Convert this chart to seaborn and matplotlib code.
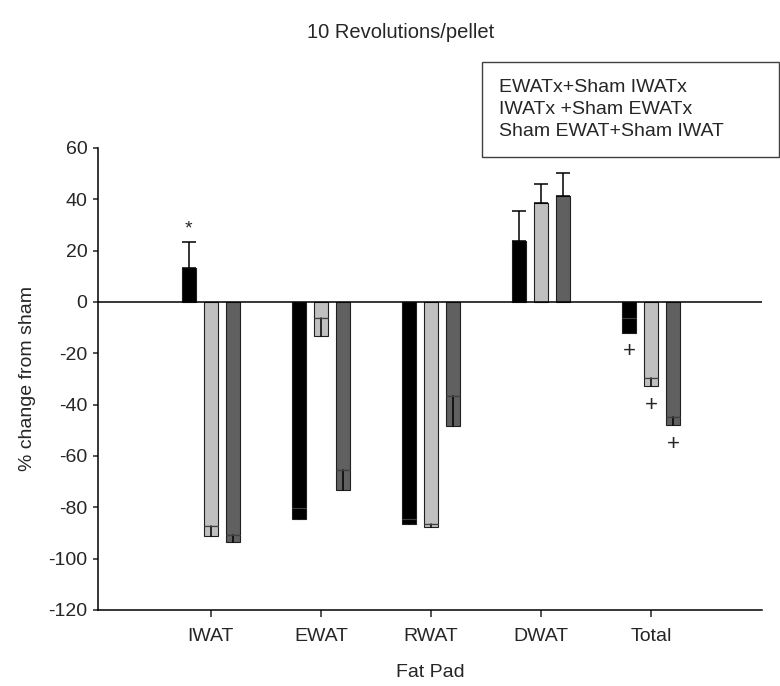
import seaborn as sns
import matplotlib.pyplot as plt
import pandas as pd

# categories and series
pads = ["IWAT", "EWAT", "RWAT", "DWAT", "Total"]
groups = ["EWATx+Sham IWATx", "IWATx +Sham EWATx", "Sham EWAT+Sham IWAT"]
colors = ["#000000", "#c0c0c0", "#606060"]

# mean % change from sham, one list per group
mean_ewatx = [13.3, -80.1, -84.7, 23.9, -6.1]
mean_iwatx = [-87.1, -6.4, -86.5, 38.6, -29.6]
mean_sham = [-90.6, -65.4, -36.5, 41.1, -44.8]

# standard error, one list per group
se_ewatx = [10.2, 4.3, 1.9, 11.4, 5.8]
se_iwatx = [4.1, 6.8, 1.0, 7.3, 3.2]
se_sham = [2.9, 7.8, 11.7, 9.3, 3.3]

# significance marks (group index, pad index, symbol)
marks = [(0, 0, "*"), (0, 4, "+"), (1, 4, "+"), (2, 4, "+")]

means = [mean_ewatx, mean_iwatx, mean_sham]
ses = [se_ewatx, se_iwatx, se_sham]

rows = []
for g, m_list, s_list in zip(groups, means, ses):
    for p, m, s in zip(pads, m_list, s_list):
        rows.append({"pad": p, "group": g, "value": m, "se": s})
df = pd.DataFrame(rows)

sns.set_style("white")
plt.rcParams["font.family"] = ["Liberation Sans", "DejaVu Sans"]
plt.rcParams["axes.unicode_minus"] = False

fig = plt.figure(figsize=(7.8, 6.86), dpi=100)
ax = fig.add_axes([0.1256, 0.1108, 0.8513, 0.6735])

sns.barplot(data=df, x="pad", y="value", hue="group", order=pads,
            hue_order=groups, palette=colors, width=0.6, gap=0.39,
            errorbar=None, edgecolor="#202020", linewidth=0.8, ax=ax,
            legend=True)

bar_sets = [list(c.patches) for c in ax.containers]

# error bars: whiskers up for positive means, filled boxes down for negative
for gi, patches in enumerate(bar_sets):
    for pi, patch in enumerate(patches):
        m = means[gi][pi]
        s = ses[gi][pi]
        xc = patch.get_x() + patch.get_width() / 2
        w = patch.get_width()
        if m >= 0:
            ax.errorbar(xc, m, yerr=[[0], [s]], fmt="none", ecolor="black",
                        elinewidth=1.1, capsize=5.0, capthick=1.1)
        else:
            ax.bar(xc, -s, bottom=m, width=w, color=colors[gi],
                   edgecolor="#202020", linewidth=0.8)
            ax.plot([xc, xc], [m, m - s], color="black", lw=1.1)
            ax.plot([xc - w / 2, xc + w / 2], [m, m], color="#404040", lw=0.8)

for gi, pi, sym in marks:
    patch = bar_sets[gi][pi]
    xc = patch.get_x() + patch.get_width() / 2
    m = means[gi][pi]
    s = ses[gi][pi]
    if m >= 0:
        ax.text(xc, m + s + 1.5, sym, ha="center", va="bottom", fontsize=14)
    else:
        ax.text(xc, m - s - 7.5, sym, ha="center", va="center", fontsize=16)

ax.axhline(0, color="black", lw=1.1)
ax.set_xlim(-1.027, 5.01)
ax.set_ylim(-120, 60)
ax.set_yticks(range(-120, 61, 20))
sns.despine(ax=ax)
for side in ["left", "bottom"]:
    ax.spines[side].set_color("black")
    ax.spines[side].set_linewidth(1.1)
ax.tick_params(axis="x", direction="out", length=5, width=1.1, labelsize=14,
               pad=8, bottom=True)
ax.tick_params(axis="y", direction="out", length=3.5, width=1.1, labelsize=14,
               pad=4, left=True)

ax.set_xlabel("Fat Pad", fontsize=14, labelpad=14)
ax.set_ylabel("% change from sham", fontsize=14, labelpad=9)
fig.text(0.514, 0.953, "10 Revolutions/pellet", ha="center", va="center",
         fontsize=14.5)

# legend: text only, in a plain box
handles, labels = ax.get_legend_handles_labels()
ax.get_legend().remove()
leg = fig.legend(handles, labels, loc="upper left",
                 bbox_to_anchor=(0.618, 0.7755, 0.381, 0.134), mode="expand",
                 fontsize=14, frameon=True, fancybox=False, handlelength=0,
                 handletextpad=0, labelspacing=0.22, borderpad=0.85,
                 borderaxespad=0)
for h in leg.legend_handles:
    h.set_visible(False)
leg.get_frame().set_edgecolor("#404040")
leg.get_frame().set_linewidth(1.0)
leg.get_frame().set_alpha(1)

fig.savefig("out.png", dpi=100)
